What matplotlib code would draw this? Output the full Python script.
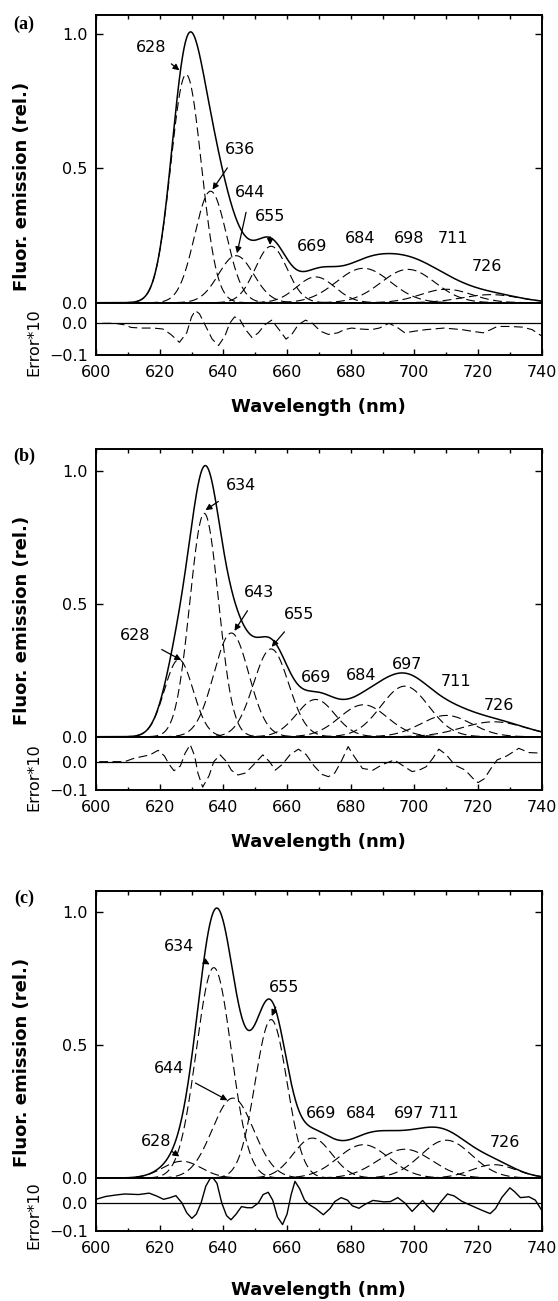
import numpy as np
import matplotlib
matplotlib.use("Agg")
import matplotlib.pyplot as plt
from matplotlib.ticker import MultipleLocator, FixedLocator

# ---------------- data ----------------
# Gaussian components: centre (nm), height (rel.), width sigma (nm)
centers_a = [628.3, 636.0, 644.0, 655.0, 669.0, 684.0, 698.0, 710.0, 724.0]
amps_a    = [0.85, 0.415, 0.175, 0.21, 0.096, 0.128, 0.124, 0.05, 0.03]
sigmas_a  = [4.8, 5.0, 5.5, 5.0, 6.0, 8.5, 8.5, 8.0, 9.0]

centers_b = [626.0, 634.0, 642.5, 655.0, 669.0, 684.0, 697.0, 710.0, 725.0]
amps_b    = [0.29, 0.84, 0.39, 0.33, 0.14, 0.12, 0.19, 0.08, 0.056]
sigmas_b  = [4.5, 4.5, 5.5, 5.5, 6.0, 7.5, 7.5, 8.0, 10.0]

centers_c = [627.0, 637.0, 643.0, 655.0, 668.0, 684.0, 697.0, 710.0, 725.0]
amps_c    = [0.063, 0.79, 0.30, 0.595, 0.15, 0.125, 0.108, 0.142, 0.05]
sigmas_c  = [6.0, 5.5, 6.5, 5.0, 6.0, 8.0, 8.5, 8.0, 7.0]

# residuals (Error*10)
err_wl_a = [602, 606, 609, 611, 614, 618, 621, 623.5, 626.2, 628.5, 630, 631.2, 632.5, 634.5, 636.5,
            638.5, 640.5, 642, 643.5, 645, 647, 649, 651, 653, 655.2, 657.5, 659.7, 661.5, 663.5,
            665.8, 668, 670.5, 673, 676, 678, 680.3, 683, 686.5, 689, 692, 694.5, 697, 700, 703.7,
            709.3, 715, 718, 721.6, 724, 726, 730, 733.9, 737, 740]
err_a    = [0.0, 0.0, -0.005, -0.013, -0.015, -0.015, -0.018, -0.035, -0.06, -0.03, 0.02, 0.04, 0.03,
            -0.01, -0.05, -0.07, -0.04, 0.0, 0.02, 0.015, -0.02, -0.045, -0.03, -0.005, 0.01, -0.02,
            -0.05, -0.035, -0.005, 0.01, 0.0, -0.025, -0.035, -0.03, -0.02, -0.015, -0.018, -0.02,
            -0.015, 0.0, -0.012, -0.03, -0.025, -0.02, -0.015, -0.02, -0.025, -0.03, -0.02, -0.01,
            -0.01, -0.012, -0.02, -0.04]

err_wl_b = [601, 609, 612, 614.5, 617, 619.5, 621.5, 623, 624.5, 626.5, 628, 629.6, 631, 632, 633.5,
            635.5, 637, 639, 641, 642.5, 644.6, 647, 650, 652.4, 654.5, 656.3, 658.5, 661, 663.6,
            666, 668.5, 671, 673, 675, 677, 679.2, 681, 683.7, 687, 690, 693.7, 696.5, 699.3,
            701.5, 703.7, 705.7, 707.7, 710, 712.7, 716, 718.5, 720, 722, 724, 726, 729, 732.8,
            736, 740]
err_b    = [0.0, 0.0, 0.012, 0.018, 0.024, 0.04, 0.02, -0.01, -0.032, -0.015, 0.03, 0.06, 0.02, -0.04,
            -0.09, -0.05, 0.0, 0.024, 0.0, -0.03, -0.047, -0.04, -0.005, 0.024, 0.0, -0.03, -0.01,
            0.025, 0.044, 0.025, -0.015, -0.045, -0.053, -0.04, 0.0, 0.053, 0.02, -0.024, -0.03,
            -0.01, 0.006, -0.015, -0.035, -0.03, -0.018, 0.01, 0.044, 0.025, -0.012, -0.03, -0.06,
            -0.074, -0.06, -0.025, 0.006, 0.02, 0.047, 0.032, 0.03]

err_wl_c = [600, 603, 606, 609, 613.4, 616.7, 619, 621.2, 623, 625.1, 627, 628.5, 630.1, 631.5, 633,
            634.5, 636.3, 638, 639.5, 641, 642.4, 644, 645.7, 647.5, 649, 651, 652.5, 654.1, 655.5,
            657, 658.6, 660, 661.3, 662.5, 664, 665.5, 667, 669, 671.4, 673.5, 675, 677, 679, 680.5,
            682.6, 684.5, 687, 690.4, 692.5, 694.8, 697, 699.3, 701, 702.6, 704, 706, 708, 710.4,
            712.5, 714.9, 718, 721, 723.8, 725.5, 727.5, 730, 731.5, 733.3, 736, 738, 740]
err_c    = [0.013, 0.023, 0.028, 0.032, 0.03, 0.035, 0.025, 0.013, 0.018, 0.026, 0.0, -0.035, -0.055,
            -0.04, 0.0, 0.06, 0.096, 0.07, 0.0, -0.045, -0.06, -0.04, -0.013, -0.017, -0.017, 0.0,
            0.03, 0.038, 0.01, -0.05, -0.077, -0.04, 0.03, 0.077, 0.05, 0.01, -0.006, -0.02, -0.042,
            -0.02, 0.005, 0.019, 0.01, -0.01, -0.019, -0.005, 0.009, 0.004, 0.005, 0.019, 0.0, -0.03,
            -0.01, 0.009, -0.01, -0.032, 0.0, 0.032, 0.025, 0.006, -0.01, -0.025, -0.038, -0.02,
            0.02, 0.054, 0.04, 0.019, 0.022, 0.01, -0.026]

# peak labels: text, text position (x, y), arrow tip (x, y) or None
labels_a = ["628", "636", "644", "655", "669", "684", "698", "711", "726"]
text_xy_a = [(617.3, 0.95), (645.2, 0.57), (648.5, 0.41), (654.7, 0.32), (668.0, 0.21),
             (683.1, 0.24), (698.2, 0.24), (712.1, 0.24), (722.7, 0.135)]
tips_a = [(626.2, 0.865), (636.6, 0.421), (644.3, 0.184), (654.7, 0.215), None, None, None, None, None]

labels_b = ["628", "634", "643", "655", "669", "684", "697", "711", "726"]
text_xy_b = [(612.3, 0.382), (645.7, 0.944), (651.3, 0.543), (663.9, 0.461), (669.2, 0.221),
             (683.3, 0.229), (697.6, 0.273), (713.2, 0.208), (726.6, 0.117)]
tips_b = [(626.8, 0.288), (634.4, 0.852), (643.5, 0.398), (655.2, 0.338), None, None, None, None, None]

labels_c = ["628", "634", "644", "655", "669", "684", "697", "711", "726"]
text_xy_c = [(619.0, 0.138), (626.2, 0.868), (622.9, 0.41), (659.1, 0.714), (670.8, 0.244),
             (683.3, 0.244), (698.2, 0.244), (709.3, 0.244), (728.3, 0.132)]
tips_c = [(626.2, 0.081), (635.7, 0.802), (641.3, 0.292), (655.2, 0.608), None, None, None, None, None]

panel_names = ["(a)", "(b)", "(c)"]
xticks = [600, 620, 640, 660, 680, 700, 720, 740]

# ---------------- layout (pixels of a 558 x 1301 figure) ----------------
W, H = 558, 1301
X0, X1 = 96, 541.7
# (main top, main bottom, error bottom, main ymax, err ymax, err dashed?, ylabel y, err label y, xlabel y, panel label y)
layout = [
    (15.0, 302.7, 355.0, 1.071, 0.065, True, 186, 342, 406.7, 24),
    (449.0, 736.7, 790.0, 1.082, 0.088, True, 620, 777, 842, 456),
    (890.7, 1178.0, 1231.0, 1.079, 0.089, False, 1062, 1215, 1290, 898),
]

plt.rcParams['font.family'] = ['DejaVu Sans']
fig = plt.figure(figsize=(W / 100, H / 100), dpi=100)

wl = np.linspace(600, 740, 1401)

def comp(c, a, s):
    return a * np.exp(-0.5 * ((wl - c) / s) ** 2)

panels = [
    (centers_a, amps_a, sigmas_a, err_wl_a, err_a, labels_a, text_xy_a, tips_a),
    (centers_b, amps_b, sigmas_b, err_wl_b, err_b, labels_b, text_xy_b, tips_b),
    (centers_c, amps_c, sigmas_c, err_wl_c, err_c, labels_c, text_xy_c, tips_c),
]

TICKFS = 11.5
for i, (cen, amp, sig, ewl, err, labs, txy, tips) in enumerate(panels):
    top, mb, eb, ymax, emax, edash, yly, ely, xly, ply = layout[i]
    left = X0 / W
    width = (X1 - X0) / W
    ax = fig.add_axes([left, 1 - mb / H, width, (mb - top) / H])
    axe = fig.add_axes([left, 1 - eb / H, width, (eb - mb) / H])

    comps = [comp(c, a, s) for c, a, s in zip(cen, amp, sig)]
    for y in comps:
        ax.plot(wl, y, color='k', lw=0.8, dashes=(8, 4))
    ax.plot(wl, np.sum(comps, axis=0), color='k', lw=1.1)

    ax.set_xlim(600, 740)
    ax.set_ylim(0, ymax)
    ax.xaxis.set_major_locator(MultipleLocator(20))
    ax.xaxis.set_minor_locator(MultipleLocator(10))
    ax.tick_params(axis='x', which='both', direction='in', top=True, bottom=False,
                   labelbottom=False, length=3, width=1)
    ax.yaxis.set_major_locator(FixedLocator([0.0, 0.5, 1.0]))
    ax.tick_params(axis='y', direction='in', left=True, right=True, length=5, width=1,
                   labelsize=TICKFS, pad=6)
    ax.set_yticklabels(["0.0", "0.5", "1.0"])
    for sp in ax.spines.values():
        sp.set_linewidth(1.4)

    for lab, (tx, ty), tip in zip(labs, txy, tips):
        if tip is None:
            ax.text(tx, ty, lab, fontsize=TICKFS, ha='center', va='center')
        else:
            ax.annotate(lab, xy=tip, xytext=(tx, ty), fontsize=TICKFS, ha='center', va='center',
                        arrowprops=dict(arrowstyle='-|>', color='k', lw=0.9, mutation_scale=9,
                                        shrinkA=7, shrinkB=0))

    # error panel
    if edash:
        axe.plot(ewl, err, color='k', lw=0.8, dashes=(8, 4))
    else:
        axe.plot(ewl, err, color='k', lw=1.0)
    axe.axhline(0, color='k', lw=0.9)
    axe.set_xlim(600, 740)
    axe.set_ylim(-0.1, emax)
    axe.xaxis.set_major_locator(FixedLocator(xticks))
    axe.xaxis.set_minor_locator(MultipleLocator(10))
    axe.tick_params(axis='x', which='major', direction='in', top=False, bottom=True,
                    length=4.5, width=1, labelsize=TICKFS, pad=7)
    axe.tick_params(axis='x', which='minor', direction='in', top=False, bottom=True,
                    length=2.5, width=1)
    axe.set_yticks([-0.1, 0.0])
    axe.set_yticklabels(["\u22120.1", "0.0"])
    axe.tick_params(axis='y', direction='in', left=True, right=False, length=0,
                    labelsize=TICKFS, pad=6)
    for sp in axe.spines.values():
        sp.set_linewidth(1.4)

    fig.text(22 / W, 1 - yly / H, "Fluor. emission (rel.)", rotation=90, ha='center', va='center',
             fontsize=13, fontweight='bold')
    fig.text(34 / W, 1 - ely / H, "Error*10", rotation=90, ha='center', va='center', fontsize=11.5)
    fig.text((X0 + X1) / 2 / W, 1 - xly / H, "Wavelength (nm)", ha='center', va='center',
             fontsize=13, fontweight='bold')
    fig.text(24 / W, 1 - ply / H, panel_names[i], ha='center', va='center', fontsize=13,
             fontweight='bold', family=['Liberation Serif'])

fig.savefig("out.png", dpi=100)
